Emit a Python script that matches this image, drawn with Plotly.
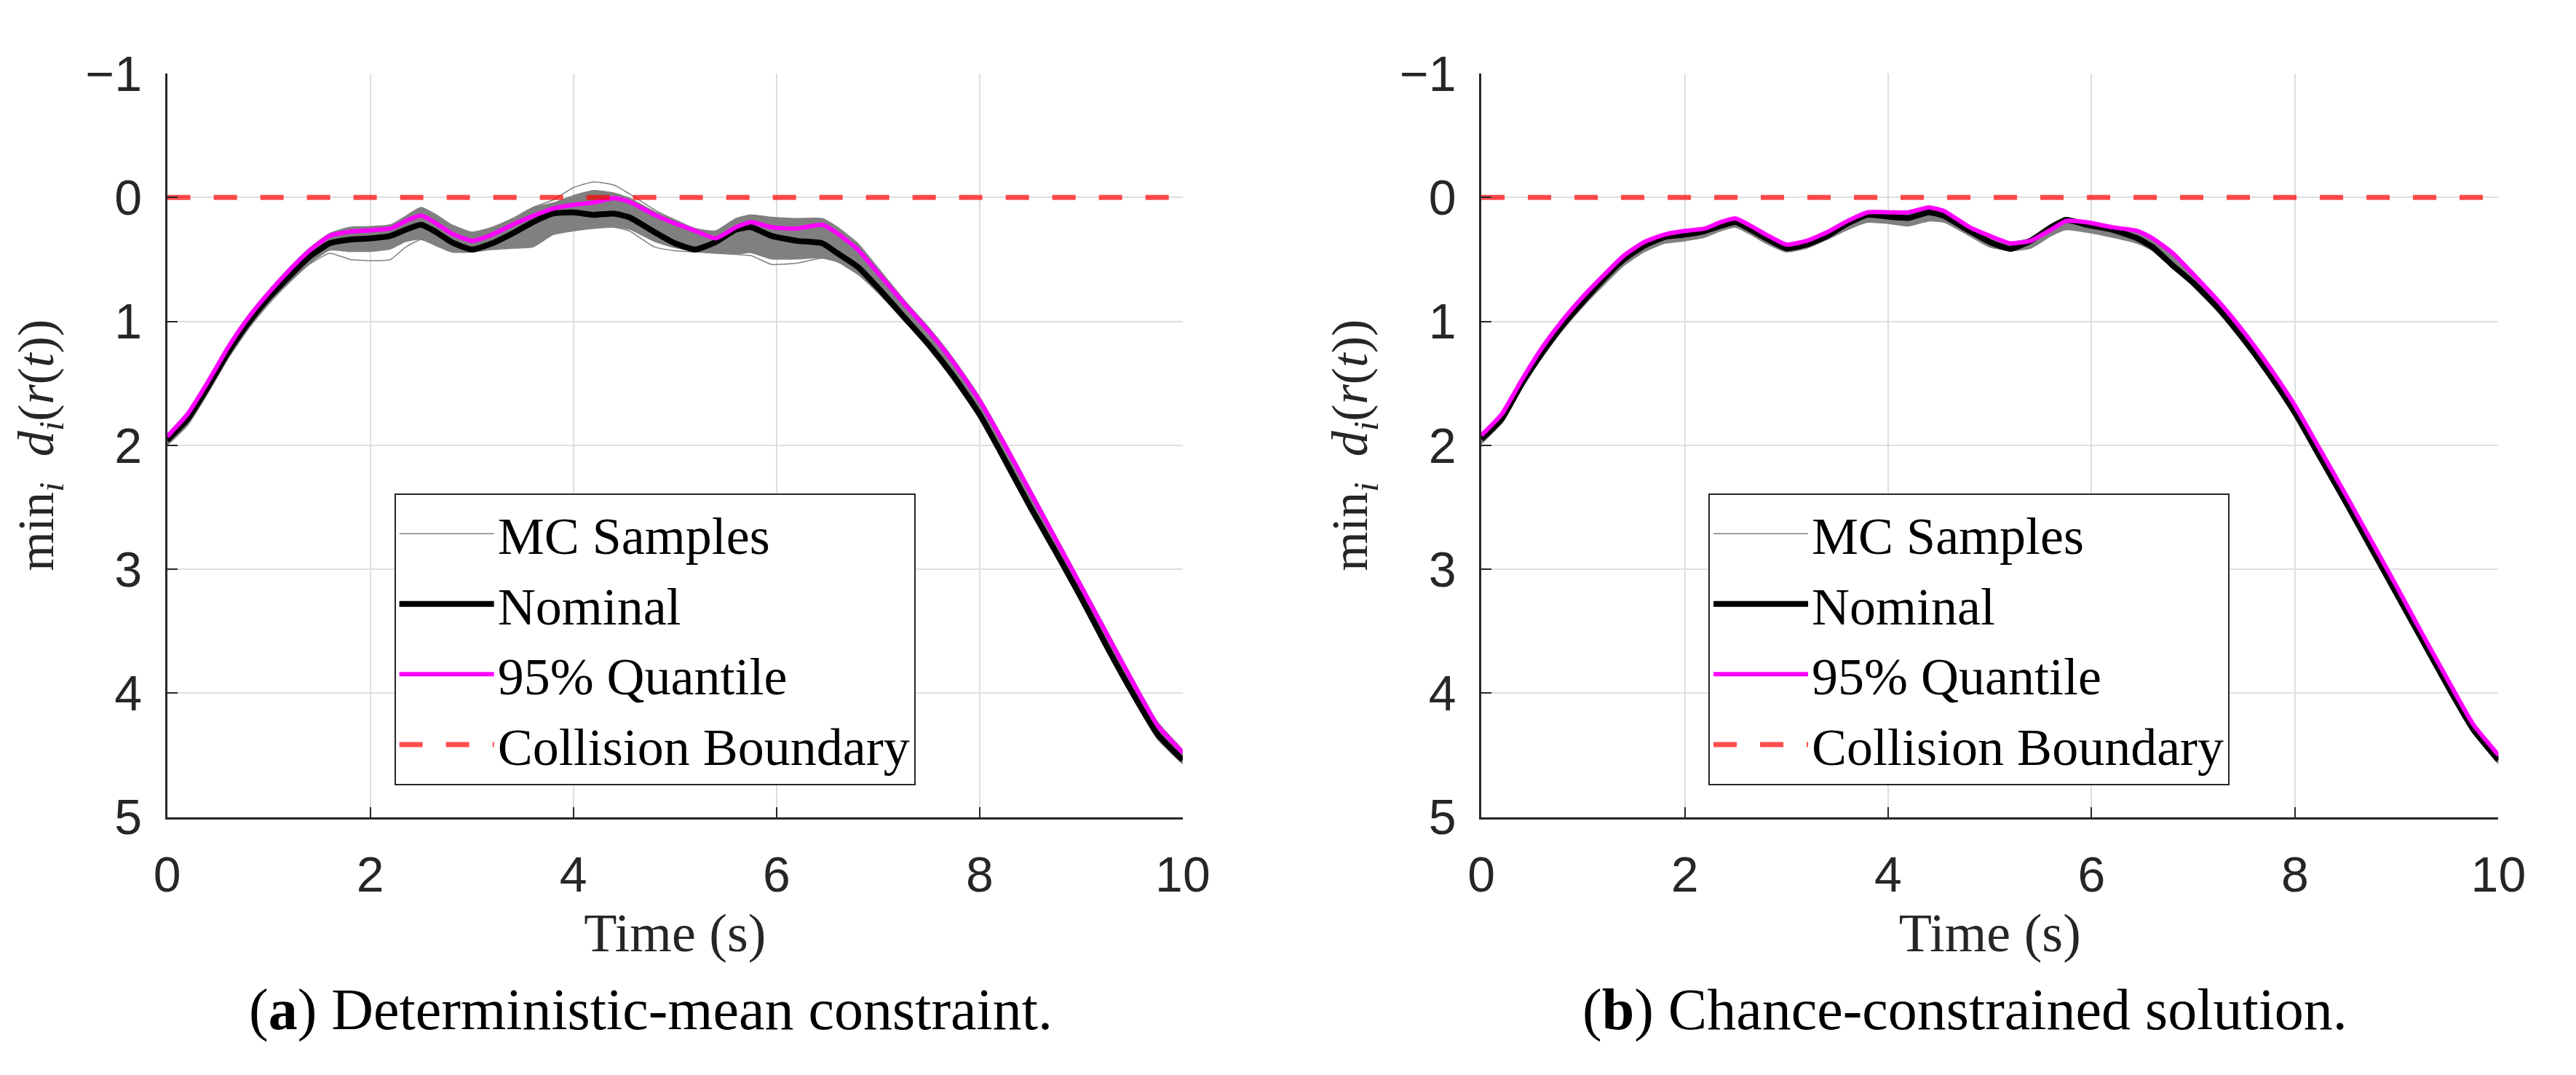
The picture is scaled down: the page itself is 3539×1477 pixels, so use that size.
import plotly.graph_objects as go

# time grid shared by every series (s)
t = [0, 0.2, 0.4, 0.6, 0.8, 1.0, 1.2, 1.4, 1.6, 1.8, 2.0, 2.2, 2.35, 2.5, 2.65, 2.8,
     3.0, 3.2, 3.4, 3.6, 3.8, 4.0, 4.2, 4.4, 4.55, 4.8, 5.0, 5.2, 5.4, 5.6, 5.75, 5.95,
     6.2, 6.45, 6.6, 6.8, 7.0, 7.25, 7.5, 7.75, 8.0, 8.25, 8.5, 8.75, 9.0, 9.25, 9.5,
     9.75, 10.0]

# (a) deterministic-mean constraint
nominal_a = [1.96, 1.79, 1.53, 1.25, 1.01, 0.81, 0.64, 0.48, 0.37, 0.34, 0.33, 0.31, 0.26,
             0.22, 0.28, 0.36, 0.42, 0.37, 0.29, 0.20, 0.13, 0.12, 0.14, 0.13, 0.16, 0.28,
             0.37, 0.42, 0.36, 0.26, 0.24, 0.31, 0.35, 0.37, 0.45, 0.56, 0.73, 0.96, 1.19,
             1.45, 1.75, 2.12, 2.50, 2.86, 3.23, 3.62, 3.99, 4.33, 4.54]
quantile_a = [1.93, 1.75, 1.49, 1.21, 0.97, 0.77, 0.59, 0.43, 0.31, 0.275, 0.265, 0.25, 0.19,
              0.145, 0.21, 0.29, 0.35, 0.30, 0.22, 0.15, 0.09, 0.06, 0.04, 0.005, 0.035, 0.14,
              0.21, 0.27, 0.33, 0.24, 0.20, 0.24, 0.25, 0.22, 0.29, 0.42, 0.61, 0.85, 1.08,
              1.34, 1.64, 2.00, 2.38, 2.76, 3.14, 3.52, 3.90, 4.26, 4.48]
mc_top_a = [1.91, 1.73, 1.47, 1.19, 0.95, 0.75, 0.57, 0.41, 0.29, 0.24, 0.235, 0.22, 0.15,
            0.08, 0.14, 0.22, 0.28, 0.24, 0.17, 0.08, 0.04, -0.02, -0.06, -0.04, 0.0, 0.11,
            0.18, 0.25, 0.27, 0.17, 0.14, 0.16, 0.17, 0.17, 0.24, 0.37, 0.57, 0.82, 1.05,
            1.31, 1.61, 1.97, 2.35, 2.73, 3.11, 3.49, 3.87, 4.23, 4.46]
mc_bottom_a = [2.0, 1.84, 1.58, 1.30, 1.06, 0.86, 0.69, 0.54, 0.43, 0.44, 0.44, 0.42, 0.36,
               0.34, 0.39, 0.44, 0.44, 0.42, 0.41, 0.40, 0.30, 0.27, 0.25, 0.24, 0.26, 0.36,
               0.41, 0.44, 0.45, 0.46, 0.45, 0.50, 0.50, 0.49, 0.52, 0.62, 0.77, 0.99, 1.22,
               1.49, 1.79, 2.15, 2.52, 2.89, 3.27, 3.65, 4.02, 4.37, 4.57]
mc_high_a = [1.91, 1.73, 1.47, 1.19, 0.95, 0.75, 0.57, 0.41, 0.29, 0.24, 0.235, 0.22, 0.15,
             0.08, 0.14, 0.22, 0.28, 0.24, 0.17, 0.08, 0.02, -0.08, -0.125, -0.10, -0.03, 0.10,
             0.18, 0.25, 0.27, 0.17, 0.14, 0.16, 0.17, 0.17, 0.24, 0.37, 0.57, 0.82, 1.05,
             1.31, 1.61, 1.97, 2.35, 2.73, 3.11, 3.49, 3.87, 4.23, 4.46]
mc_low_a = [2.0, 1.84, 1.58, 1.30, 1.06, 0.86, 0.69, 0.54, 0.45, 0.50, 0.51, 0.50, 0.40,
            0.34, 0.39, 0.44, 0.44, 0.42, 0.41, 0.40, 0.30, 0.27, 0.25, 0.24, 0.27, 0.40,
            0.43, 0.44, 0.45, 0.46, 0.47, 0.54, 0.53, 0.49, 0.52, 0.62, 0.77, 0.99, 1.22,
            1.49, 1.79, 2.15, 2.52, 2.89, 3.27, 3.65, 4.02, 4.37, 4.57]

# (b) chance-constrained solution
nominal_b = [1.95, 1.79, 1.50, 1.25, 1.03, 0.84, 0.66, 0.50, 0.39, 0.32, 0.30, 0.27, 0.23,
             0.20, 0.26, 0.33, 0.41, 0.38, 0.31, 0.21, 0.14, 0.155, 0.165, 0.12, 0.15, 0.27,
             0.36, 0.415, 0.35, 0.24, 0.18, 0.22, 0.26, 0.33, 0.40, 0.55, 0.69, 0.90, 1.15,
             1.43, 1.74, 2.10, 2.46, 2.83, 3.20, 3.57, 3.94, 4.29, 4.54]
quantile_b = [1.92, 1.75, 1.47, 1.21, 0.99, 0.80, 0.63, 0.47, 0.36, 0.30, 0.27, 0.25, 0.20,
              0.17, 0.23, 0.30, 0.38, 0.35, 0.28, 0.19, 0.12, 0.12, 0.12, 0.08, 0.11, 0.24,
              0.31, 0.37, 0.35, 0.26, 0.19, 0.20, 0.24, 0.27, 0.33, 0.45, 0.62, 0.84, 1.09,
              1.37, 1.68, 2.04, 2.40, 2.77, 3.14, 3.52, 3.89, 4.25, 4.50]
mc_top_b = [1.91, 1.74, 1.46, 1.20, 0.98, 0.79, 0.62, 0.46, 0.35, 0.29, 0.26, 0.24, 0.19,
            0.16, 0.22, 0.29, 0.37, 0.34, 0.27, 0.18, 0.11, 0.11, 0.11, 0.07, 0.10, 0.23,
            0.30, 0.36, 0.33, 0.23, 0.17, 0.19, 0.23, 0.26, 0.32, 0.44, 0.61, 0.83, 1.08,
            1.36, 1.67, 2.03, 2.39, 2.76, 3.13, 3.51, 3.88, 4.24, 4.49]
mc_bottom_b = [1.99, 1.82, 1.54, 1.29, 1.07, 0.88, 0.71, 0.55, 0.44, 0.37, 0.35, 0.32, 0.27,
               0.24, 0.30, 0.37, 0.44, 0.41, 0.34, 0.26, 0.20, 0.21, 0.23, 0.19, 0.20, 0.31,
               0.40, 0.43, 0.41, 0.31, 0.26, 0.28, 0.32, 0.37, 0.43, 0.57, 0.71, 0.92, 1.17,
               1.45, 1.76, 2.12, 2.48, 2.85, 3.22, 3.59, 3.96, 4.32, 4.57]

boundary_t = [0, 10]
boundary = [0, 0]

xticks = [0, 2, 4, 6, 8, 10]
yticks = [-1, 0, 1, 2, 3, 4, 5]

GRAY = "#808080"
AXC = "#262626"

fig = go.Figure()


def add_panel(xa, ya, lg, nominal, quantile, top, bottom, high, low):
    fig.add_trace(go.Scatter(x=t + t[::-1], y=top + bottom[::-1], fill="toself",
                             fillcolor=GRAY, line=dict(width=0, shape="spline", smoothing=0.5),
                             mode="lines", showlegend=False, hoverinfo="skip",
                             xaxis=xa, yaxis=ya))
    fig.add_trace(go.Scatter(x=t, y=high, mode="lines", name="MC Samples", legend=lg,
                             line=dict(color=GRAY, width=1.5, shape="spline", smoothing=0.5),
                             xaxis=xa, yaxis=ya))
    fig.add_trace(go.Scatter(x=t, y=low, mode="lines", showlegend=False,
                             line=dict(color=GRAY, width=1.5, shape="spline", smoothing=0.5),
                             xaxis=xa, yaxis=ya))
    fig.add_trace(go.Scatter(x=t, y=nominal, mode="lines", name="Nominal", legend=lg,
                             line=dict(color="black", width=8, shape="spline", smoothing=0.5),
                             xaxis=xa, yaxis=ya))
    fig.add_trace(go.Scatter(x=t, y=quantile, mode="lines", name="95% Quantile", legend=lg,
                             line=dict(color="#ff00ff", width=6, shape="spline", smoothing=0.5),
                             xaxis=xa, yaxis=ya))
    fig.add_trace(go.Scatter(x=boundary_t, y=boundary, mode="lines", name="Collision Boundary",
                             legend=lg,
                             line=dict(color="rgba(255,0,0,0.7)", width=7, dash="32px,32px"),
                             xaxis=xa, yaxis=ya))


add_panel("x", "y", "legend", nominal_a, quantile_a, mc_top_a, mc_bottom_a, mc_high_a, mc_low_a)
add_panel("x2", "y2", "legend2", nominal_b, quantile_b, mc_top_b, mc_bottom_b, mc_top_b, mc_bottom_b)

xcommon = dict(range=[0, 10], tickvals=xticks, showline=True, linecolor=AXC, linewidth=3,
               ticks="inside", ticklen=14, tickwidth=2, tickcolor=AXC,
               showgrid=True, gridcolor="#dedede", gridwidth=2, zeroline=False,
               tickfont=dict(family="Liberation Sans", size=68, color=AXC),
               ticklabelstandoff=18,
               title=dict(text="Time (s)", standoff=18,
                          font=dict(family="Liberation Serif", size=74, color=AXC)))
ycommon = dict(range=[5, -1], tickvals=yticks, showline=True, linecolor=AXC, linewidth=3,
               ticks="inside", ticklen=14, tickwidth=2, tickcolor=AXC,
               showgrid=True, gridcolor="#dedede", gridwidth=2, zeroline=False,
               tickfont=dict(family="Liberation Sans", size=68, color=AXC),
               ticklabelstandoff=18,
               title=dict(text="min<sub><i>i</i></sub>  <i>d<sub>i</sub></i>(<i>r</i>(<i>t</i>))",
                          standoff=22,
                          font=dict(family="Liberation Serif", size=70, color=AXC)))

legcommon = dict(xanchor="left", yanchor="top", y=0.549, bgcolor="white",
                 bordercolor=AXC, borderwidth=2, itemwidth=130,
                 font=dict(family="Liberation Serif", size=72, color="black"))

fig.update_layout(
    width=3539, height=1477,
    margin=dict(l=0, r=0, t=0, b=0),
    paper_bgcolor="white", plot_bgcolor="white",
    font=dict(family="Liberation Sans"),
    xaxis=dict(domain=[0.0582, 0.4589], anchor="y", **xcommon),
    yaxis=dict(domain=[0.2316, 0.9607], anchor="x", **ycommon),
    xaxis2=dict(domain=[0.5767, 0.978], anchor="y2", **xcommon),
    yaxis2=dict(domain=[0.2316, 0.9607], anchor="x2", **ycommon),
    legend=dict(x=0.1478, **legcommon),
    legend2=dict(x=0.6663, **legcommon),
    annotations=[
        dict(text="(<b>a</b>) Deterministic-mean constraint.", x=0.249, y=0.0427,
             xref="paper", yref="paper", xanchor="center", yanchor="middle", showarrow=False,
             font=dict(family="Liberation Serif", size=80, color="black")),
        dict(text="(<b>b</b>) Chance-constrained solution.", x=0.7675, y=0.0427,
             xref="paper", yref="paper", xanchor="center", yanchor="middle", showarrow=False,
             font=dict(family="Liberation Serif", size=80, color="black")),
    ],
)

fig.write_html("out.html")
